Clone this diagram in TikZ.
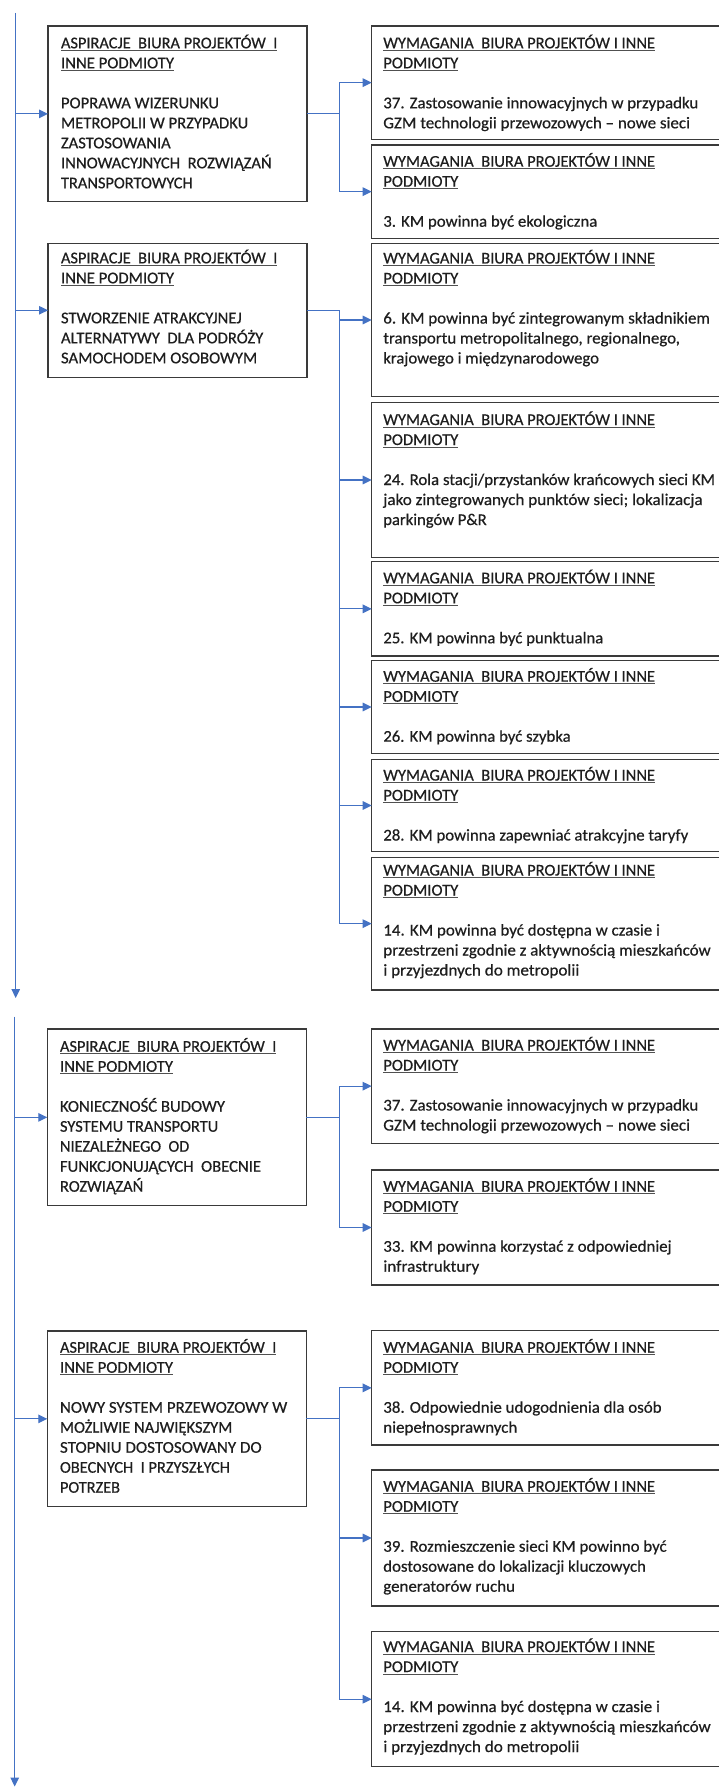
\documentclass[tikz,border=0pt]{standalone}
\usepackage{graphicx}
\usepackage{fontspec}
\setmainfont{Carlito}
\newfontfamily\boxfont{Carlito}[FakeBold=0.5,Ligatures=TeX]
\usetikzlibrary{arrows.meta}

\definecolor{linkblue}{HTML}{4472C4}
\definecolor{framegray}{HTML}{3A3A3A}
\definecolor{inkcol}{HTML}{1E1E1E}
\definecolor{ulcol}{HTML}{505050}

% one text line set to a given width (horizontal scaling only)
\newsavebox\fitbx
\newcommand\fitto[2]{\sbox\fitbx{#2}\pgfmathsetmacro\fitsx{(#1)/(\the\wd\fitbx)}\scalebox{\fitsx}[1]{\usebox\fitbx}}
% underlined heading line
\newcommand\hdline[1]{\setbox0=\hbox{#1}\rlap{\textcolor{ulcol}{\rule[-2.4pt]{\wd0}{0.9pt}}}\box0}
% left-aligned block whose baseline is the first line
\newcommand\lines[1]{\begin{tabular}[t]{@{}l@{}}#1\end{tabular}}
\newcommand\asphead{\hdline{\fitto{216.3}{ASPIRACJE\ \ BIURA PROJEKTÓW\ \ I}}\\ \hdline{\fitto{113}{INNE PODMIOTY}}\\ \\}
\newcommand\reqhead{\hdline{\fitto{271.7}{WYMAGANIA\ \ BIURA PROJEKTÓW I INNE}}\\ \hdline{\fitto{75}{PODMIOTY}}\\ \\}
\newcommand\lnA{\fitto{315}{37. Zastosowanie innowacyjnych w przypadku}\\ \fitto{306.7}{GZM technologii przewozowych – nowe sieci}}
\newcommand\lnB{\fitto{276.7}{14. KM powinna być dostępna w czasie i}\\ \fitto{327.4}{przestrzeni zgodnie z aktywnością mieszkańców}\\ \fitto{196}{i przyjezdnych do metropolii}}

\begin{document}
\begin{tikzpicture}[x=1pt,y=-1pt,
  aspbox/.style={draw=framegray, line width=1.3pt, rectangle, inner sep=0pt, outer sep=0pt,
                 anchor=north west, minimum width=259},
  reqbox/.style={draw=framegray, line width=1.3pt, rectangle, inner sep=0pt, outer sep=0pt,
                 anchor=north west, minimum width=370},
  boxtext/.style={inner sep=0pt, outer sep=0pt, anchor=base west, text=inkcol,
                  font=\boxfont\fontsize{16.4}{20}\selectfont},
  conn/.style={draw=linkblue, line width=1.2pt},
  tip/.style={conn, -{Triangle[length=9pt,width=8.5pt]}}]
\clip (0,0) rectangle (719,1787);
\fill[white] (0,0) rectangle (719,1787);

% ---------- aspiration boxes ----------
\node[aspbox, minimum height=175.7] (a1) at (48,26) {};
\node[boxtext] (a1t) at (61,48.3) {\lines{\asphead
  \fitto{158}{POPRAWA WIZERUNKU}\\ \fitto{187.3}{METROPOLII W PRZYPADKU}\\
  \fitto{109.7}{ZASTOSOWANIA}\\ \fitto{210.7}{INNOWACYJNYCH\ \ ROZWIĄZAŃ}\\
  \fitto{131.7}{TRANSPORTOWYCH}}};

\node[aspbox, minimum height=134] (a2) at (48,243.3) {};
\node[boxtext] (a2t) at (61,263.3) {\lines{\asphead
  \fitto{180.7}{STWORZENIE ATRAKCYJNEJ}\\ \fitto{202.3}{ALTERNATYWY\ \ DLA PODRÓŻY}\\
  \fitto{196.3}{SAMOCHODEM OSOBOWYM}}};

\node[aspbox, minimum height=176.7] (a3) at (47.3,1029) {};
\node[boxtext] (a3t) at (60,1051.7) {\lines{\asphead
  \fitto{165}{KONIECZNOŚĆ BUDOWY}\\ \fitto{158.3}{SYSTEMU TRANSPORTU}\\
  \fitto{129.3}{NIEZALEŻNEGO\ \ OD}\\ \fitto{201}{FUNKCJONUJĄCYCH\ \ OBECNIE}\\
  \fitto{83.3}{ROZWIĄZAŃ}}};

\node[aspbox, minimum height=175.7] (a4) at (47.3,1331) {};
\node[boxtext] (a4t) at (60,1352.7) {\lines{\asphead
  \fitto{227.3}{NOWY SYSTEM PRZEWOZOWY W}\\ \fitto{172.3}{MOŻLIWIE NAJWIĘKSZYM}\\
  \fitto{201.7}{STOPNIU DOSTOSOWANY DO}\\ \fitto{170}{OBECNYCH\ \ I PRZYSZŁYCH}\\
  \fitto{60}{POTRZEB}}};

% ---------- requirement boxes ----------
\node[reqbox, minimum height=113.3] (r1) at (371.7,26) {};
\node[boxtext] (r1t) at (383.3,48.3) {\lines{\reqhead \lnA}};

\node[reqbox, minimum height=93.3] (r2) at (371.7,145) {};
\node[boxtext] (r2t) at (383.3,166.7) {\lines{\reqhead \fitto{214}{3. KM powinna być ekologiczna}}};

\node[reqbox, minimum height=153.4] (r3) at (371.7,243.3) {};
\node[boxtext] (r3t) at (383.3,263.5) {\lines{\reqhead
  \fitto{326.7}{6. KM powinna być zintegrowanym składnikiem}\\
  \fitto{296.7}{transportu metropolitalnego, regionalnego,}\\
  \fitto{215.7}{krajowego i międzynarodowego}}};

\node[reqbox, minimum height=154.6] (r4) at (371.7,402.7) {};
\node[boxtext] (r4t) at (383.3,425) {\lines{\reqhead
  \fitto{331.7}{24. Rola stacji/przystanków krańcowych sieci KM}\\
  \fitto{319.4}{jako zintegrowanych punktów sieci; lokalizacja}\\
  \fitto{103.4}{parkingów P\&R}}};

\node[reqbox, minimum height=94.3] (r5) at (371.7,561.7) {};
\node[boxtext] (r5t) at (383.3,583.3) {\lines{\reqhead \fitto{220}{25. KM powinna być punktualna}}};

\node[reqbox, minimum height=92.6] (r6) at (371.7,660.7) {};
\node[boxtext] (r6t) at (383.3,681.7) {\lines{\reqhead \fitto{187.4}{26. KM powinna być szybka}}};

\node[reqbox, minimum height=92.4] (r7) at (371.7,759.3) {};
\node[boxtext] (r7t) at (383.3,780.5) {\lines{\reqhead \fitto{305}{28. KM powinna zapewniać atrakcyjne taryfy}}};

\node[reqbox, minimum height=132.7] (r8) at (371.7,857.3) {};
\node[boxtext] (r8t) at (383.3,875.5) {\lines{\reqhead \lnB}};

\node[reqbox, minimum height=114.3] (r9) at (371.7,1029) {};
\node[boxtext] (r9t) at (383.3,1050.5) {\lines{\reqhead \lnA}};

\node[reqbox, minimum height=115] (r10) at (371.7,1170) {};
\node[boxtext] (r10t) at (383.3,1191.7) {\lines{\reqhead
  \fitto{288.4}{33. KM powinna korzystać z odpowiedniej}\\ \fitto{96}{infrastruktury}}};

\node[reqbox, minimum height=114.3] (r11) at (371.7,1330.7) {};
\node[boxtext] (r11t) at (383.3,1352.7) {\lines{\reqhead
  \fitto{278.4}{38. Odpowiednie udogodnienia dla osób}\\ \fitto{134}{niepełnosprawnych}}};

\node[reqbox, minimum height=136] (r12) at (371.7,1470) {};
\node[boxtext] (r12t) at (383.3,1491.7) {\lines{\reqhead
  \fitto{283.4}{39. Rozmieszczenie sieci KM powinno być}\\
  \fitto{262.7}{dostosowane do lokalizacji kluczowych}\\
  \fitto{131.7}{generatorów ruchu}}};

\node[reqbox, minimum height=135] (r13) at (371.7,1631.7) {};
\node[boxtext] (r13t) at (383.3,1652) {\lines{\reqhead \lnB}};

% ---------- connectors ----------
\coordinate (bus) at (339.3,0);

% first column line
\coordinate (m1s) at (15.7,13);
\coordinate (m1e) at (15.7,998);
\draw[tip] (m1s) -- (m1e);
\draw[tip] (m1s |- a1.west) -- (a1.west);
\draw[tip] (m1s |- a2.west) -- (a2.west);

\draw[conn] (a1.east) -- (a1.east -| bus);
\draw[conn] (bus |- r1.west) -- (bus |- r2.west);
\foreach \nm in {r1,r2} \draw[tip] (bus |- \nm.west) -- (\nm.west);

\draw[conn] (a2.east) -| (bus |- r8.west);
\foreach \nm in {r3,r4,r5,r6,r7,r8} \draw[tip] (bus |- \nm.west) -- (\nm.west);

% second column line
\coordinate (m2s) at (14.7,1016.7);
\coordinate (m2e) at (14.7,1786.5);
\draw[tip] (m2s) -- (m2e);
\draw[tip] (m2s |- a3.west) -- (a3.west);
\draw[tip] (m2s |- a4.west) -- (a4.west);

\draw[conn] (a3.east) -- (a3.east -| bus);
\draw[conn] (bus |- r9.west) -- (bus |- r10.west);
\foreach \nm in {r9,r10} \draw[tip] (bus |- \nm.west) -- (\nm.west);

\draw[conn] (a4.east) -- (a4.east -| bus);
\draw[conn] (bus |- r11.west) -- (bus |- r13.west);
\foreach \nm in {r11,r12,r13} \draw[tip] (bus |- \nm.west) -- (\nm.west);
\end{tikzpicture}
\end{document}
